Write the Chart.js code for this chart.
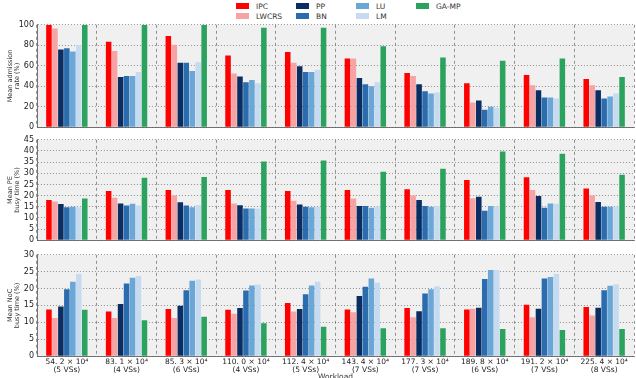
<!DOCTYPE html>
<html>
<head>
<meta charset="utf-8">
<script src="https://cdn.jsdelivr.net/npm/chart.js@4.4.1/dist/chart.umd.min.js"></script>
<style>
  body { margin: 0; width: 636px; height: 378px; background: #fff; position: relative; overflow: hidden; font-family: "DejaVu Sans", sans-serif; }
  .panel { position: absolute; left: 0; width: 636px; }
  .lg { position: absolute; font-size: 7.5px; color: #333; line-height: 8px; white-space: nowrap; }
  .lg i { display: inline-block; width: 13px; height: 6px; margin-right: 7px; vertical-align: 0px; }
  #xtitle { position: absolute; top: 373px; left: 0; width: 671px; text-align: center; font-size: 7.5px; line-height: 8px; color: #333; }
</style>
</head>
<body>
<div id="legend"></div>
<div class="panel" style="top:17px;height:118px"><canvas id="admChart"></canvas></div>
<div class="panel" style="top:132px;height:116px"><canvas id="peChart"></canvas></div>
<div class="panel" style="top:247px;height:131px"><canvas id="nocChart"></canvas></div>
<div id="xtitle">Workload</div>
<script>
// ── Data ──────────────────────────────────────────────────────────────────
const workloads = [
  ['54. 2 × 10⁴', '(5 VSs)'], ['83. 1 × 10⁴', '(4 VSs)'], ['85. 3 × 10⁴', '(6 VSs)'],
  ['110. 0 × 10⁴', '(4 VSs)'], ['112. 4 × 10⁴', '(5 VSs)'], ['143. 4 × 10⁴', '(7 VSs)'],
  ['177. 3 × 10⁴', '(7 VSs)'], ['189. 8 × 10⁴', '(6 VSs)'], ['191. 2 × 10⁴', '(7 VSs)'],
  ['225. 4 × 10⁴', '(8 VSs)'],
];
const seriesNames = ['IPC', 'LWCRS', 'PP', 'BN', 'LU', 'LM', 'GA-MP'];

// mean admission rate (%)
const admIPC   = [100, 83.5, 89, 70, 73.5, 67, 53, 43, 51, 47];
const admLWCRS = [96.5, 74.5, 80.5, 52.5, 63, 67, 50, 24, 41, 41];
const admPP    = [76, 49, 63, 49.5, 59.5, 48, 42, 26, 36, 36];
const admBN    = [77, 50, 63, 44, 54, 42, 35, 17, 29, 28];
const admLU    = [74, 50, 55, 46, 54, 40, 33, 20, 29, 30];
const admLM    = [80, 54, 63.5, 43, 56, 44, 34, 19, 28, 33];
const admGA    = [100, 100, 100, 97, 97, 79, 68, 65, 67, 49];

// mean PE busy time (%)
const peIPC   = [18, 22, 22.5, 22.5, 22, 22.5, 22.8, 27, 28.2, 23.2];
const peLWCRS = [17.3, 19, 20, 16.5, 17.7, 18.7, 20, 18.8, 22.5, 20];
const pePP    = [16.2, 16.5, 17, 15.7, 16, 15.3, 18, 19.5, 19.8, 17.1];
const peBN    = [14.8, 15.5, 15.5, 14.2, 15, 15.3, 15.3, 13.2, 14.5, 15];
const peLU    = [15, 16.3, 14.8, 14.2, 14.8, 14.6, 15, 15.3, 16.5, 15];
const peLM    = [14.8, 15.5, 15.8, 14.2, 15, 15, 15.3, 15, 16.3, 15];
const peGA    = [18.7, 28, 28.3, 35.3, 35.7, 30.7, 32, 39.8, 38.7, 29.3];

// mean NoC busy time (%)
const nocIPC   = [13.8, 13.2, 13.9, 13.7, 15.7, 13.8, 14.2, 13.8, 15.2, 14.5];
const nocLWCRS = [11.3, 11.3, 11.3, 12.5, 13.2, 13, 11.5, 14, 11.5, 12];
const nocPP    = [14.7, 15.4, 14.9, 14.2, 13.9, 17.8, 13.3, 14.3, 14, 14.3];
const nocBN    = [19.8, 21.5, 19.5, 19.4, 18.3, 20.5, 18.5, 22.8, 23, 19.5];
const nocLU    = [22, 23.2, 22.3, 20.9, 20.9, 23, 19.8, 25.5, 23.4, 20.8];
const nocLM    = [24.3, 23.7, 22.7, 21.2, 22, 21.8, 20.7, 25.5, 24.3, 21.3];
const nocGA    = [13.7, 10.6, 11.6, 9.7, 8.7, 8.2, 8.2, 8, 7.7, 8];

const colors = ['#ff0000', '#f7a3a3', '#0a2d62', '#2a6cae', '#6aa6d6', '#c6dbef', '#2ca25f'];

// ── Legend (two rows, four columns) ───────────────────────────────────────
const legendPos = [[236, 3], [236, 13], [296, 3], [296, 13], [356, 3], [356, 13], [416, 3]];
document.getElementById('legend').innerHTML = seriesNames.map((n, i) =>
  `<div class="lg" style="left:${legendPos[i][0]}px;top:${legendPos[i][1]}px"><i style="background:${colors[i]}"></i>${n}</div>`
).join('');

// ── Charts ────────────────────────────────────────────────────────────────
const bgPlugin = {
  id: 'plotBg',
  beforeDraw(chart) {
    const { ctx, chartArea: a } = chart;
    ctx.save();
    ctx.fillStyle = '#f0f0f0';
    ctx.fillRect(a.left, a.top, a.right - a.left, a.bottom - a.top);
    ctx.restore();
  },
};

function makePanel(id, series, yMax, yStep, yTitle, showX) {
  return new Chart(document.getElementById(id), {
    type: 'bar',
    data: {
      labels: workloads,
      datasets: series.map((d, i) => ({
        label: seriesNames[i],
        data: d,
        backgroundColor: colors[i],
        borderWidth: 0,
        categoryPercentage: 0.7,
        barPercentage: 0.93,
      })),
    },
    options: {
      responsive: true,
      maintainAspectRatio: false,
      animation: false,
      layout: { padding: { top: 5, bottom: showX ? 0 : 5, left: 0, right: 2 } },
      plugins: { legend: { display: false }, tooltip: { enabled: false } },
      scales: {
        x: {
          offset: true,
          grid: { offset: true, color: '#666', lineWidth: 0.7, drawTicks: false },
          border: { display: true, color: '#555', width: 0.8, dash: [3, 3] },
          ticks: {
            display: showX,
            color: '#222',
            padding: 2,
            maxRotation: 0,
            autoSkip: false,
            font: { family: 'DejaVu Sans', size: 7.5, lineHeight: 1.1 },
          },
          afterFit: s => { s.height = showX ? 22 : 0; },
        },
        y: {
          min: 0,
          max: yMax,
          ticks: {
            stepSize: yStep,
            autoSkip: false,
            color: '#222',
            padding: 3,
            font: { family: 'DejaVu Sans', size: 8 },
          },
          grid: { color: '#666', lineWidth: 0.7, drawTicks: false },
          border: { display: true, color: '#555', width: 0.8, dash: [1, 2] },
          title: {
            display: true,
            text: yTitle,
            color: '#333',
            padding: { top: 6, bottom: 0 },
            font: { family: 'DejaVu Sans', size: 6.5, lineHeight: 1.2 },
          },
          afterFit: s => { s.width = 37; },
        },
      },
    },
    plugins: [bgPlugin],
  });
}

makePanel('admChart', [admIPC, admLWCRS, admPP, admBN, admLU, admLM, admGA], 100, 20,
  ['Mean admission', 'rate (%)'], false);
makePanel('peChart', [peIPC, peLWCRS, pePP, peBN, peLU, peLM, peGA], 45, 5,
  ['Mean PE', 'busy time (%)'], false);
makePanel('nocChart', [nocIPC, nocLWCRS, nocPP, nocBN, nocLU, nocLM, nocGA], 30, 5,
  ['Mean NoC', 'busy time (%)'], true);
</script>
</body>
</html>
